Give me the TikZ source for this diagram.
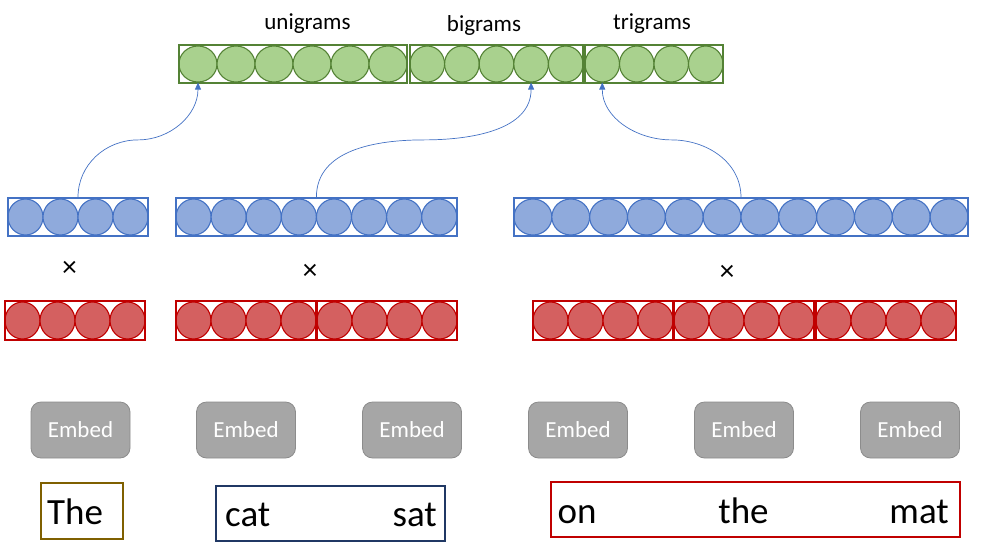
\documentclass[tikz,border=0pt]{standalone}
\usepackage{fontspec}
\setmainfont{Carlito}
\usepackage{tikz}
\usetikzlibrary{arrows.meta, positioning, shapes.geometric, calc}
\definecolor{gfill}{HTML}{A9D18E}
\definecolor{gline}{HTML}{548235}
\definecolor{bfill}{HTML}{8FAADC}
\definecolor{bline}{HTML}{4472C4}
\definecolor{rfill}{HTML}{D46060}
\definecolor{rline}{HTML}{C00000}
\definecolor{efill}{HTML}{A6A6A6}
\definecolor{eline}{HTML}{8C8C8C}
\definecolor{brownline}{HTML}{7F6000}
\definecolor{navyline}{HTML}{203864}

\begin{document}
\begin{tikzpicture}[x=1pt, y=-1pt,
  rowbox/.style={draw, line width=1.5pt, inner sep=0pt},
  cell/.style={ellipse, draw, line width=1.1pt, inner sep=0pt},
  link/.style={draw=bline, line width=0.7pt, -{Triangle[width=6pt, length=7pt]}},
  embed/.style={draw=eline, fill=efill, line width=0.8pt, rounded corners=10pt, minimum width=99pt, minimum height=56pt, text=white, font=\fontsize{23}{28}\selectfont},
  wordbox/.style={draw, line width=1.5pt, inner sep=0pt},
  word/.style={inner sep=0pt, font=\fontsize{37}{44}\selectfont},
  label/.style={inner sep=0pt, font=\fontsize{23}{28}\selectfont}]
\useasboundingbox (0,0) rectangle (984,546);

% Output vector (green)
\foreach \n/\x/\k/\w in {uni/179/6/38, bi/410/5/34.6, tri/585/4/34.5} {
    \foreach \i in {1,...,\k}
        \node[cell, fill=gfill, draw=gline, minimum width=\w pt, minimum height=36pt] (\n\i) at (\x+\w*\i-\w/2,64) {};
    \node[rowbox, draw=gline, minimum width=\k*\w pt, minimum height=38pt] (\n) at (\x+\k*\w/2,64) {};
}
\node[label, anchor=base] (lab1) at (307.5,29) {unigrams};
\node[label, anchor=base] (lab2) at (484,31) {bigrams};
\node[label, anchor=base] (lab3) at (652,29) {trigrams};

% Filters (blue)
\foreach \n/\x/\k/\w in {b1/8/4/35, b2/176/8/35.1, b3/514/12/37.83} {
    \foreach \i in {1,...,\k}
        \node[cell, fill=bfill, draw=bline, minimum width=\w pt, minimum height=36pt] (\n c\i) at (\x+\w*\i-\w/2,217) {};
    \node[rowbox, draw=bline, minimum width=\k*\w pt, minimum height=38pt] (\n) at (\x+\k*\w/2,217) {};
}

% Products
\node[label, font=\fontsize{29}{32}\selectfont] (x1) at (69.5,269) {×};
\node[label, font=\fontsize{29}{32}\selectfont] (x2) at (310,272) {×};
\node[label, font=\fontsize{29}{32}\selectfont] (x3) at (727,273) {×};

% Word embeddings (red)
\foreach \n/\x in {r1/5, r2/176, r3/317, r4/533, r5/674, r6/816} {
    \foreach \i in {1,...,4}
        \node[cell, fill=rfill, draw=rline, minimum width=35pt, minimum height=37pt] (\n c\i) at (\x+35*\i-17.5,320.5) {};
    \node[rowbox, draw=rline, minimum width=140pt, minimum height=39pt] (\n) at (\x+70,320.5) {};
}

% Embed layers
\foreach \x [count=\i] in {80.5,246,412,578,744,910}
    \node[embed] (e\i) at (\x,430) {Embed};

% Input words
\node[wordbox, draw=brownline, minimum width=82pt, minimum height=56pt] (g1) at (82,511) {};
\node[wordbox, draw=navyline, minimum width=229pt, minimum height=55pt] (g2) at (330.5,513.5) {};
\node[wordbox, draw=rline, minimum width=409pt, minimum height=55pt] (g3) at (755.5,509.5) {};
\node[word, anchor=base west] (w1) at (47,524) {The};
\node[word, anchor=base west] (w2) at (225,526) {cat};
\node[word, anchor=base east] (w3) at (437,526) {sat};
\node[word, anchor=base west] (w4) at (557.5,523) {on};
\node[word, anchor=base] (w5) at (743.5,523) {the};
\node[word, anchor=base east] (w6) at (949,523) {mat};

% Connectors
\draw[link] (b1.north) to[out=90,in=180] ($(b1.north)!.5!(uni1.south)$) to[out=0,in=-90] (uni1.south);
\draw[link] (b2.north) to[out=90,in=180] ($(b2.north)!.5!(bi4.south)$) to[out=0,in=-90] (bi4.south);
\draw[link] (b3.north) to[out=90,in=0] ($(b3.north)!.5!(tri1.south)$) to[out=180,in=-90] (tri1.south);

\end{tikzpicture}
\end{document}
